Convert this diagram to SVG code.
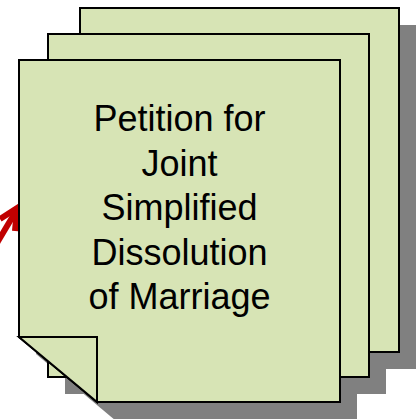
<svg xmlns="http://www.w3.org/2000/svg" width="417" height="419" viewBox="0 0 417 419">
  <style>
    .page { fill: #D7E4B5; stroke: #000; stroke-width: 2; stroke-linejoin: miter; }
    .shadow { fill: #808080; }
    .label { font-family: "Liberation Sans", Arial, sans-serif; font-size: 36px; fill: #000; text-anchor: middle; }
    .arrow { fill: none; stroke: #C00000; stroke-width: 6; stroke-linejoin: miter; stroke-linecap: butt; }
  </style>
  <rect width="417" height="419" fill="#FFFFFF"/>
  <g id="connectors">
    <path class="arrow" d="M -12 258 L 16 211"/>
    <path class="arrow" d="M 0 219 L 17 208 L 15 231"/>
  </g>
  <g id="petition-stack">
    <g id="shadows">
      <rect class="shadow" x="97" y="25" width="319" height="344"/>
      <rect class="shadow" x="65" y="51" width="321" height="343"/>
      <path class="shadow" d="M 36 77 L 357 77 L 357 436 L 134 436 L 36 354 Z"/>
    </g>
    <rect id="page-back" class="page" x="80" y="8" width="319" height="344"/>
    <rect id="page-middle" class="page" x="48" y="34" width="321" height="343"/>
    <g id="page-front">
      <path class="page" d="M 19 60 L 340 60 L 340 402 L 97 402 L 19 337 Z"/>
      <path class="page" d="M 19 337 L 97 337 L 97 402 Z"/>
      <text class="label" x="179.5" y="131">Petition for</text>
      <text class="label" x="179.5" y="175.5">Joint</text>
      <text class="label" x="179.5" y="220">Simplified</text>
      <text class="label" x="179.5" y="264.5">Dissolution</text>
      <text class="label" x="179.5" y="309">of Marriage</text>
    </g>
  </g>
</svg>
